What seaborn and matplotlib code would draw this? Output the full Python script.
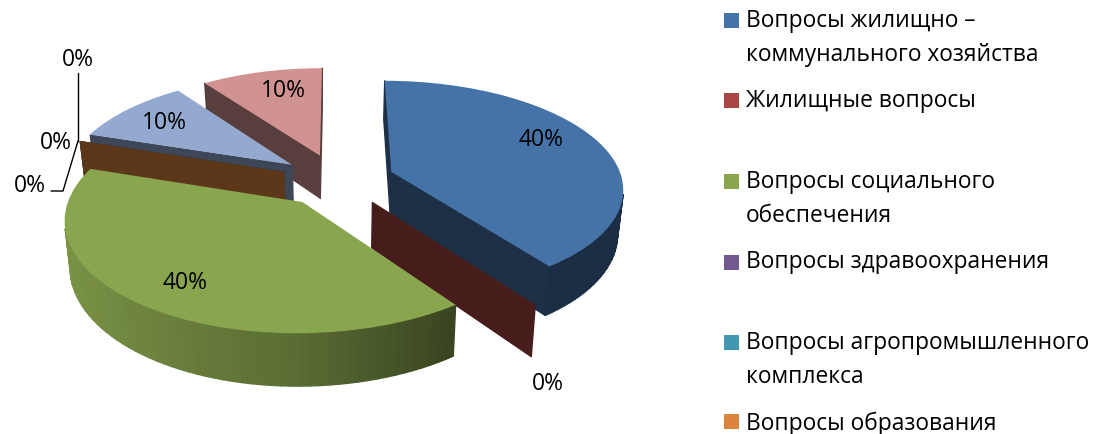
import numpy as np
import matplotlib
matplotlib.use("Agg")
import matplotlib.pyplot as plt
import seaborn as sns
from matplotlib.collections import PolyCollection
from matplotlib.legend_handler import HandlerPatch
from matplotlib.patches import Patch, Rectangle
from matplotlib.transforms import Transform

categories = [
    "Вопросы жилищно –\nкоммунального хозяйства",
    "Жилищные вопросы",
    "Вопросы социального\nобеспечения",
    "Вопросы здравоохранения",
    "Вопросы агропромышленного\nкомплекса",
    "Вопросы образования",
]
values = [40, 0, 40, 0, 0, 0, 10, 10]
colors = ["#4572A7", "#AA4643", "#89A54E", "#71588F", "#4198AF", "#DB843D", "#93A9CF", "#D19392"]
# label anchor points in figure pixels: (x, y)
label_xy = [(541, 140), (548, 384), (185, 283), (78, 60), (56, 143), (30, 186), (164, 123), (283, 91)]

sns.set_theme(style="white")
plt.rcParams["font.family"] = ["Open Sans", "DejaVu Sans"]

W, H = 1097, 435
X0, Y0, A_LEFT, A_RIGHT, B, K, DEPTH, CONVERGE = 337, 181, 228, 231, 106, 0.14, 44, 0.02
EXPLODE = 0.25


def project(u, v, z=0.0):
    u, v = np.asarray(u, float), np.asarray(v, float)
    s = 1.0 / (1.0 + K * v)
    a = np.where(u < 0, A_LEFT, A_RIGHT)
    return X0 + a * u * s * (1 - CONVERGE * z), Y0 - B * v * s + DEPTH * z * s


class PlaneToPixels(Transform):
    input_dims = output_dims = 2
    is_separable = False
    has_inverse = False

    def transform_non_affine(self, values):
        values = np.asarray(values)
        x, y = project(values[:, 0], values[:, 1])
        return np.column_stack([x, y])


fig = plt.figure(figsize=(W / 100, H / 100), dpi=100)
ax = fig.add_axes([0, 0, 1, 1])

wedges, _ = ax.pie(values, colors=colors, startangle=90, counterclock=False,
                   explode=[EXPLODE] * len(values), radius=1.0,
                   wedgeprops={"linewidth": 0})
ax.set_aspect("auto")
ax.set_xlim(0, W)
ax.set_ylim(H, 0)
ax.axis("off")
plane = PlaneToPixels() + ax.transData


def scaled(color, f):
    return tuple(np.clip(np.array(matplotlib.colors.to_rgb(color)) * f, 0, 1))


def area(p):
    x, y = p[:, 0], p[:, 1]
    return 0.5 * np.sum(x * np.roll(y, -1) - np.roll(x, -1) * y)


def rim(w, theta):
    t = np.radians(theta)
    return w.center[0] + w.r * np.cos(t), w.center[1] + w.r * np.sin(t)


def quad(a, b):
    xa0, ya0 = project(*a)
    xb0, yb0 = project(*b)
    xb1, yb1 = project(*b, 1.0)
    xa1, ya1 = project(*a, 1.0)
    return np.array([[xa0, ya0], [xb0, yb0], [xb1, yb1], [xa1, ya1]])


def wall_shade(x):
    # light falls from the left
    f = 0.66 - 0.24 * x if x < 0 else 0.66 - 0.42 * x
    return np.clip(f, 0.40, 0.90)


order = sorted(range(len(wedges)), key=lambda i: (-round(wedges[i].center[1], 4), i))
FACE = 0.42
for rank, i in enumerate(order):
    w = wedges[i]
    c = colors[i]
    cen = tuple(w.center)
    polys, cols = [], []
    # radial cut faces, only those turned towards the viewer
    for a, b in [(cen, rim(w, w.theta1)), (rim(w, w.theta2), cen)]:
        q = quad(a, b)
        if area(q) > 0:
            polys.append(q)
            cols.append(scaled(c, FACE))
    # outer wall as thin shaded strips
    if w.theta2 > w.theta1:
        th = np.linspace(w.theta1, w.theta2, 70)
        for t0, t1 in zip(th[:-1], th[1:]):
            q = quad(rim(w, t0), rim(w, t1))
            if area(q) > 0:
                polys.append(q)
                cols.append(scaled(c, wall_shade(np.cos(np.radians((t0 + t1) / 2)))))
    if polys:
        ax.add_collection(PolyCollection(polys, facecolors=cols, edgecolors=cols,
                                         linewidths=1.0, zorder=2 + rank))
    w.set_transform(plane)
    w.set_clip_on(False)
    w.set_zorder(2.5 + rank)

for v, (x, y) in zip(values, label_xy):
    ax.text(x, y, f"{v}%", ha="center", va="center", fontsize=16.5,
            color="black", zorder=30)

# leader lines of the three crowded zero labels
ax.plot([78, 78], [74, 142], color="black", lw=1, zorder=31)
ax.plot([78, 63, 51], [142, 192, 192], color="black", lw=1, zorder=31)

SHIFT_BLOCK = 12.9   # two-line rows: the legend centres the handle on the block
SHIFT_SINGLE = 0.0   # a single-line row sits on its own baseline
SQ = 15 * 0.72


class FirstLineHandle(HandlerPatch):
    def create_artists(self, legend, orig, xd, yd, width, height, fontsize, trans):
        shift = SHIFT_SINGLE if orig.get_label() == "single" else SHIFT_BLOCK
        return [Rectangle((0, shift), SQ, SQ, facecolor=orig.get_facecolor(),
                          linewidth=0, transform=trans)]


# every row but the last keeps two lines, so the rows share one pitch
labels = [t if ("\n" in t or t == categories[-1]) else t + "\n " for t in categories]
handles = [Patch(facecolor=c, label="single" if "\n" not in t else "block")
           for c, t in zip(colors, labels)]
leg = ax.legend(handles, labels, handler_map={Patch: FirstLineHandle()},
                loc="upper left", bbox_to_anchor=(724, 8.5), bbox_transform=ax.transData,
                frameon=False, fontsize=16.4, borderpad=0, borderaxespad=0,
                handlelength=0.65, handleheight=1.0, handletextpad=0.31,
                labelspacing=0.99)
for t in leg.get_texts():
    t.set_linespacing(1.56)
    t.set_color("black")
leg.set_zorder(40)

fig.savefig("out.png", dpi=100)
